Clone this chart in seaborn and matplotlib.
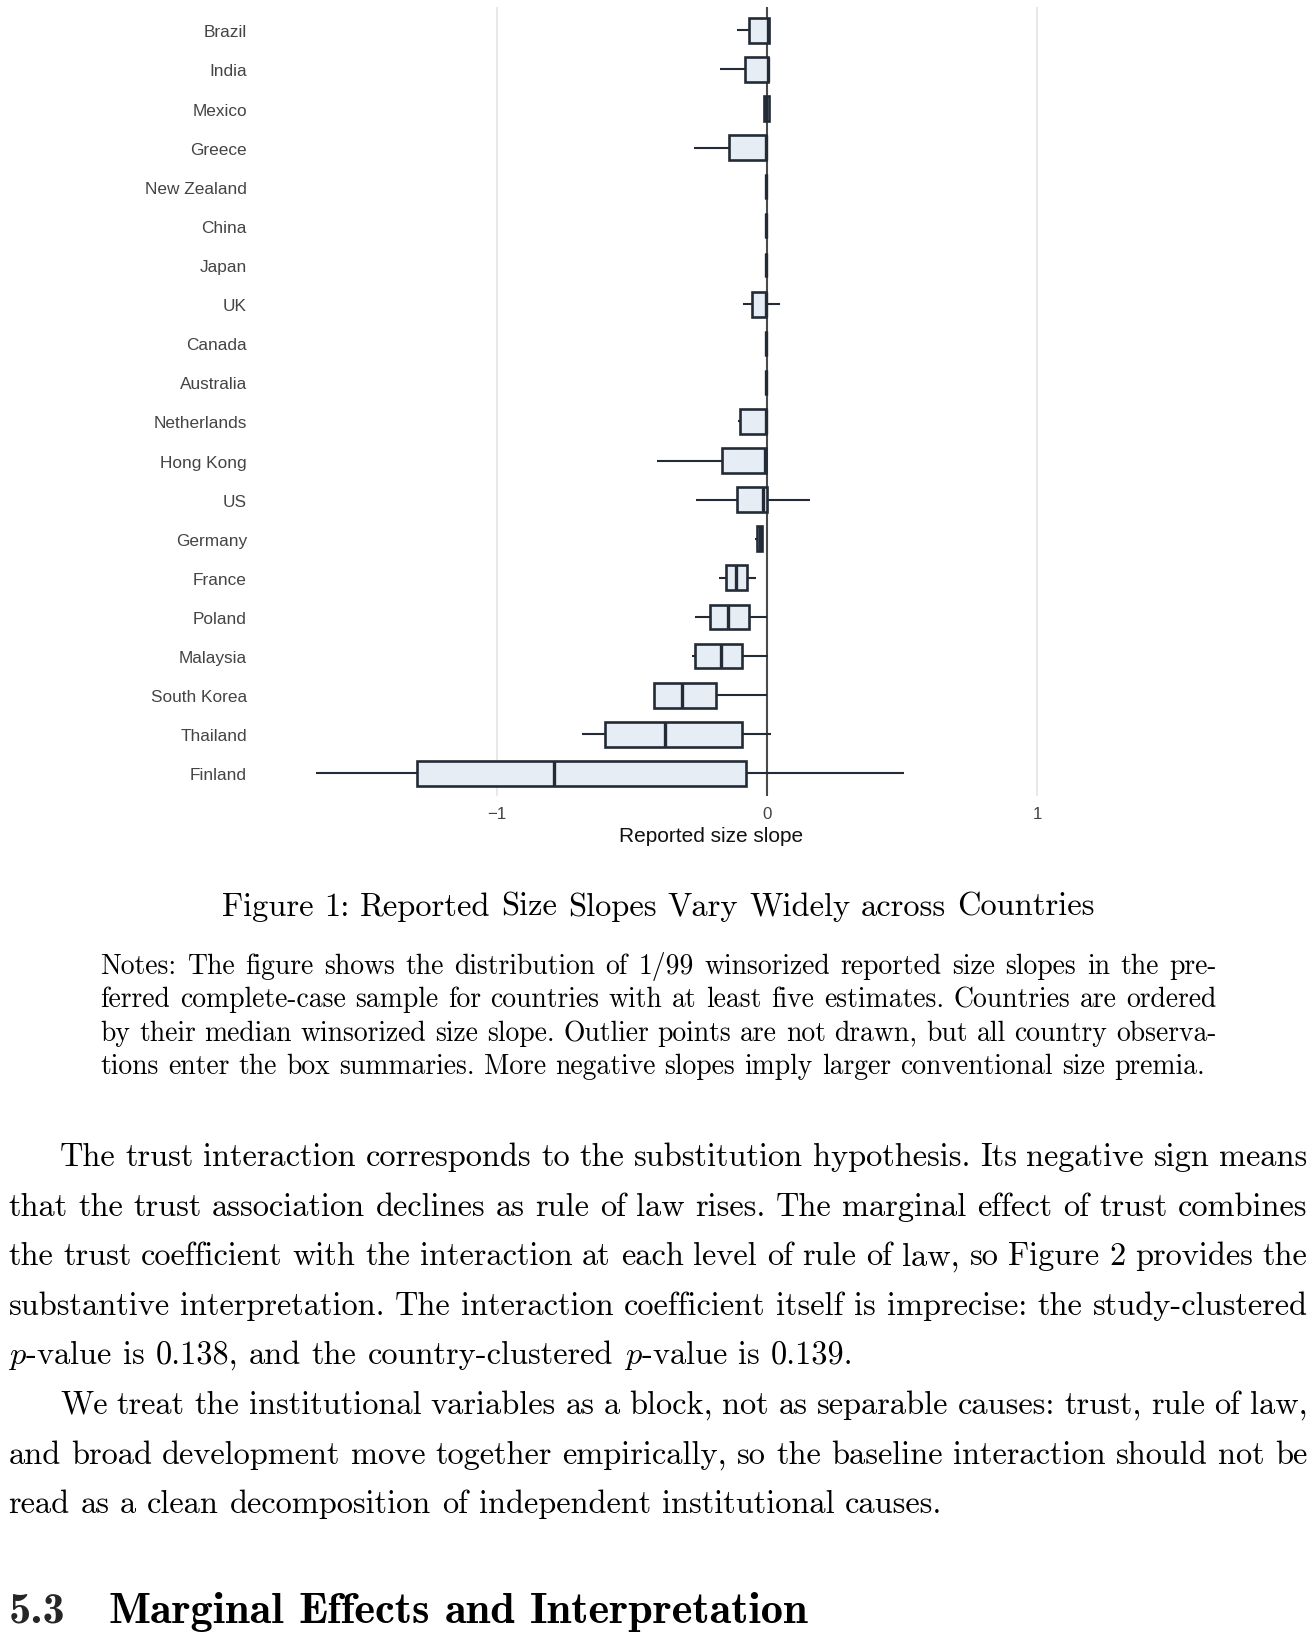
import numpy as np
import pandas as pd
import matplotlib
matplotlib.use("Agg")
import matplotlib.pyplot as plt
import seaborn as sns

# ---------------- data ----------------
countries = ["Brazil", "India", "Mexico", "Greece", "New Zealand", "China", "Japan",
             "UK", "Canada", "Australia", "Netherlands", "Hong Kong", "US", "Germany",
             "France", "Poland", "Malaysia", "South Korea", "Thailand", "Finland"]
whisker_low = [-0.111, -0.173, -0.012, -0.270, -0.004, -0.004, -0.004, -0.088, -0.004, -0.005,
               -0.107, -0.409, -0.264, -0.043, -0.179, -0.268, -0.279, -0.419, -0.686, -1.670]
q1 = [-0.067, -0.082, -0.012, -0.140, -0.004, -0.004, -0.004, -0.054, -0.004, -0.005,
      -0.100, -0.167, -0.110, -0.037, -0.152, -0.211, -0.267, -0.419, -0.600, -1.298]
median = [0.005, 0.002, -0.003, -0.004, -0.003, -0.003, -0.003, -0.004, -0.003, -0.004,
          -0.004, -0.006, -0.016, -0.025, -0.113, -0.145, -0.170, -0.314, -0.378, -0.790]
q3 = [0.006, 0.003, 0.006, -0.002, -0.002, -0.002, -0.002, -0.003, -0.002, -0.003,
      -0.003, -0.003, 0.000, -0.019, -0.073, -0.067, -0.094, -0.188, -0.094, -0.076]
whisker_high = [0.006, 0.011, 0.006, -0.002, -0.002, -0.002, -0.002, 0.048, -0.002, -0.003,
                -0.003, -0.003, 0.160, -0.015, -0.040, 0.000, 0.003, 0.000, 0.016, 0.507]
x_ticks = [-1, 0, 1]
x_tick_labels = ["\u22121", "0", "1"]
x_label = "Reported size slope"

caption = "Figure 1: Reported Size Slopes Vary Widely across Countries"
notes_lines = [
    "Notes: The figure shows the distribution of 1/99 winsorized reported size slopes in the pre-",
    "ferred complete-case sample for countries with at least five estimates. Countries are ordered",
    "by their median winsorized size slope. Outlier points are not drawn, but all country observa-",
    "tions enter the box summaries. More negative slopes imply larger conventional size premia.",
]
body_lines = [
    "The trust interaction corresponds to the substitution hypothesis. Its negative sign means",
    "that the trust association declines as rule of law rises. The marginal effect of trust combines",
    "the trust coefficient with the interaction at each level of rule of law, so Figure 2 provides the",
    "substantive interpretation. The interaction coefficient itself is imprecise: the study-clustered",
    "$p$-value is 0.138, and the country-clustered $p$-value is 0.139.",
    "We treat the institutional variables as a block, not as separable causes: trust, rule of law,",
    "and broad development move together empirically, so the baseline interaction should not be",
    "read as a clean decomposition of independent institutional causes.",
]
body_indent = [True, False, False, False, False, True, False, False]
body_last = [False, False, False, False, True, False, False, True]
heading_num = "5.3"
heading_text = "Marginal Effects and Interpretation"

# long-form table built from the five-number summaries
rows = []
for i, c in enumerate(countries):
    for v in (whisker_low[i], q1[i], median[i], q3[i], whisker_high[i]):
        rows.append({"country": c, "value": v})
df = pd.DataFrame(rows)

# ---------------- figure ----------------
sns.set_theme(style="white")
plt.rcParams["font.family"] = ["Liberation Sans", "DejaVu Sans"]
plt.rcParams["mathtext.fontset"] = "cm"

W, H = 1316, 1640
fig = plt.figure(figsize=(W / 100, H / 100), dpi=100)
fig.patch.set_facecolor("white")

ax_l, ax_r, ax_t, ax_b = 256, 1166, 8.4, 797
ax = fig.add_axes([ax_l / W, 1 - ax_b / H, (ax_r - ax_l) / W, (ax_b - ax_t) / H])

edge = "#232c36"
ax.axvline(0, color="#4a4a4a", lw=1.5, zorder=1.5)
sns.boxplot(data=df, x="value", y="country", order=countries, orient="h",
            color="#e6edf5", saturation=1, linecolor=edge, linewidth=1.9,
            width=0.635, whis=(0, 100), showfliers=False, showcaps=False,
            whiskerprops={"linewidth": 1.5}, medianprops={"linewidth": 2.4},
            ax=ax)

ax.set_xlim(-1.8926, 1.4778)
ax.set_ylim(19.58, -0.588)
ax.set_xticks(x_ticks)
ax.set_xticklabels(x_tick_labels)
ax.grid(axis="x", color="#e8e8e8", lw=1.4)
ax.grid(axis="y", visible=False)
ax.set_axisbelow(True)
for s in ax.spines.values():
    s.set_visible(False)
ax.tick_params(axis="y", length=0, pad=6.5, labelsize=12.4, labelcolor="#444444")
ax.tick_params(axis="x", length=0, pad=7, labelsize=12.2, labelcolor="#444444")
ax.set_ylabel("")
ax.set_xlabel(x_label, fontsize=15, color="#111111", labelpad=4)

# ---------------- document text ----------------
renderer = fig.canvas.get_renderer()
SERIF = ["cmr10"]
BOLD = ["cmb10"]


def tw(s, size, family):
    t = fig.text(0, 0, s, fontsize=size, family=family)
    w = t.get_window_extent(renderer).width
    t.remove()
    return w


def natural_width(words, size, family):
    em = size * 100 / 72
    return sum(tw(w, size, family) for w in words) + 0.333 * em * (len(words) - 1)


def draw_line(text, x0, x1, y, size, family, justify, color="black"):
    words = text.split(" ")
    widths = [tw(w, size, family) for w in words]
    em = size * 100 / 72
    if justify and len(words) > 1:
        gap = (x1 - x0 - sum(widths)) / (len(words) - 1)
    else:
        gap = 0.333 * em
    x = x0
    for w, wd in zip(words, widths):
        fig.text(x / W, 1 - y / H, w, fontsize=size, family=family, ha="left",
                 va="baseline", color=color)
        x += wd + gap


# caption
cap_size = 10 * 874 / natural_width(caption.split(" "), 10, SERIF)
cap_w = natural_width(caption.split(" "), cap_size, SERIF)
draw_line(caption, 658 - cap_w / 2, 658 + cap_w / 2, 916, cap_size, SERIF, False)

# notes
notes_size = 10 * 1106 / natural_width(notes_lines[3].split(" "), 10, SERIF)
notes_y = [974, 1007.5, 1041, 1074.5]
for i, line in enumerate(notes_lines):
    draw_line(line, 100.4, 1216.5, notes_y[i], notes_size, SERIF, i < 3)

# body
body_size = 1.016 * 10 * 839 / natural_width(body_lines[4].split(" "), 10, SERIF)
body_y = [1166 + 49.6 * i for i in range(len(body_lines))]
for i, line in enumerate(body_lines):
    x0 = 60 if body_indent[i] else 8.4
    draw_line(line, x0, 1307.5, body_y[i], body_size, SERIF, not body_last[i])

# heading
head_size = 10 * 698 / natural_width(heading_text.split(" "), 10, BOLD)
fig.text(8.4 / W, 1 - 1623 / H, heading_num, fontsize=head_size, family=BOLD,
         ha="left", va="baseline")
draw_line(heading_text, 108, 806, 1623, head_size, BOLD, False)

fig.savefig("out.png", dpi=100, facecolor="white")
